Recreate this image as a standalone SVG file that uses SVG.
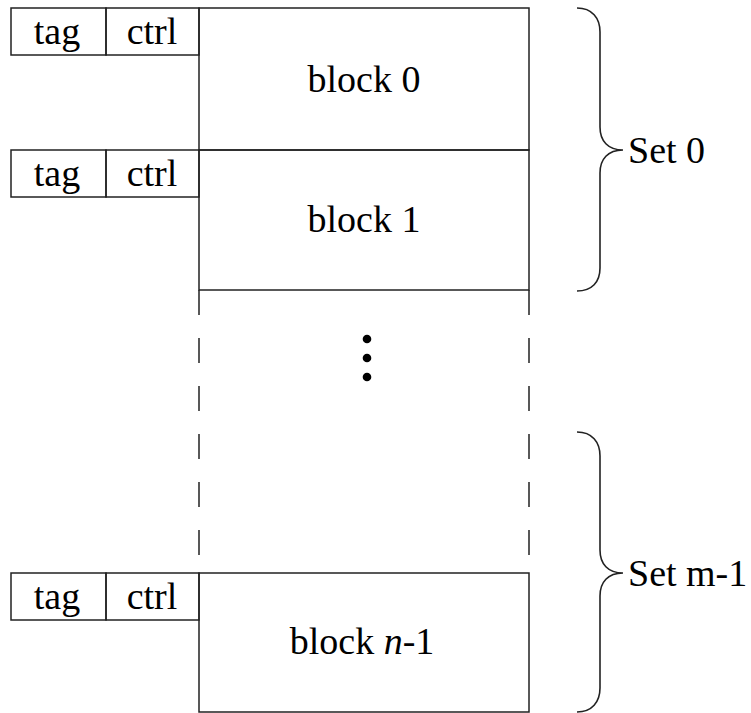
<svg xmlns="http://www.w3.org/2000/svg" width="751" height="713" viewBox="0 0 751 713">
<style>
.box{fill:none;stroke:#222;stroke-width:1.5}
.t{font-family:"Liberation Serif","Times New Roman",serif;font-size:38px;fill:#000;text-anchor:middle}
.s{font-family:"Liberation Serif","Times New Roman",serif;font-size:38px;fill:#000}
.brace{fill:none;stroke:#222;stroke-width:1.6}
.dash{stroke:#222;stroke-width:1.5;stroke-dasharray:25 23}
</style>
<rect width="751" height="713" fill="#fff"/>
<g id="row0">
<rect class="box" x="11" y="8" width="95" height="47"/>
<rect class="box" x="106" y="8" width="93" height="47"/>
<rect class="box" x="199" y="8" width="330" height="142"/>
<text class="t" x="57" y="44">tag</text>
<text class="t" x="152" y="44">ctrl</text>
<text class="t" x="364" y="92">block 0</text>
</g>
<g id="row1">
<rect class="box" x="11" y="150" width="95" height="47"/>
<rect class="box" x="106" y="150" width="93" height="47"/>
<rect class="box" x="199" y="150" width="330" height="140"/>
<text class="t" x="57" y="186">tag</text>
<text class="t" x="152" y="186">ctrl</text>
<text class="t" x="364" y="232">block 1</text>
</g>
<g id="gap">
<line class="dash" x1="199" y1="290" x2="199" y2="556"/>
<line class="dash" x1="529" y1="290" x2="529" y2="556"/>
<circle cx="367" cy="339" r="4.3" fill="#000"/>
<circle cx="367" cy="358" r="4.3" fill="#000"/>
<circle cx="367" cy="377" r="4.3" fill="#000"/>
</g>
<g id="rowN">
<rect class="box" x="11" y="573" width="95" height="47"/>
<rect class="box" x="106" y="573" width="93" height="47"/>
<rect class="box" x="199" y="573" width="330" height="139"/>
<text class="t" x="57" y="609">tag</text>
<text class="t" x="152" y="609">ctrl</text>
<text class="t" x="362" y="654">block <tspan font-style="italic">n</tspan>-1</text>
</g>
<g id="set0">
<path class="brace" d="M577,8 C592,8 600,18 600,32 L600,127 C600,141 608,150 623,150 C608,150 600,159 600,173 L600,268 C600,282 592,291 577,291"/>
<text class="s" x="628" y="163">Set 0</text>
</g>
<g id="setm1">
<path class="brace" d="M577,432 C592,432 600,442 600,456 L600,550 C600,564 608,573 623,573 C608,573 600,582 600,596 L600,688 C600,702 592,712 577,712"/>
<text class="s" x="628" y="586">Set m-1</text>
</g>
<g id="connectors"></g>
</svg>
